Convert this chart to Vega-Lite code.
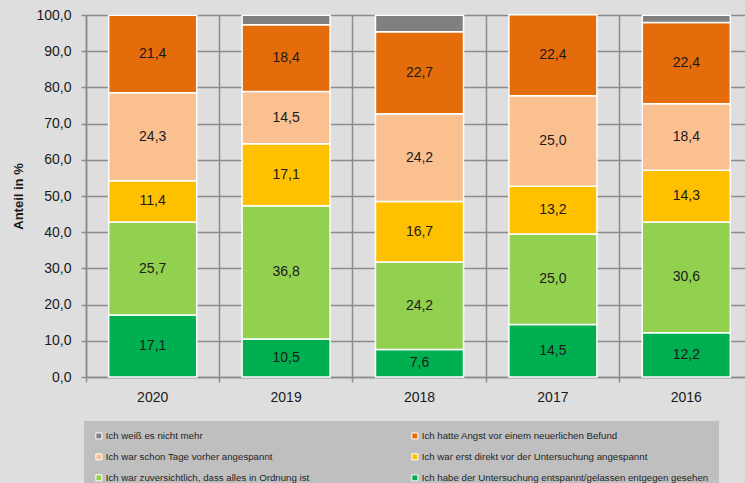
{
  "$schema": "https://vega.github.io/schema/vega-lite/v6.json",
  "width": 667,
  "height": 362,
  "autosize": {"type": "none"},
  "padding": {"left": 86, "top": 15, "right": -8, "bottom": 106},
  "background": "#dedede",
  "config": {
    "view": {"stroke": null},
    "font": "Liberation Sans",
    "locale": {"number": {"decimal": ",", "thousands": ".", "grouping": [3], "currency": ["", " €"]}},
    "axisY": {
      "titleFontSize": 13,
      "titleFontWeight": "bold",
      "titleColor": "#1a1a1a",
      "titlePadding": 10,
      "grid": true,
      "gridColor": "#8c8c8c",
      "gridWidth": 1.5,
      "domainColor": "#8c8c8c",
      "domainWidth": 1.5,
      "tickColor": "#8c8c8c",
      "tickWidth": 1.5,
      "tickSize": 5,
      "labelFontSize": 14,
      "labelColor": "#1a1a1a",
      "labelPadding": 10,
      "labelOverlap": false
    }
  },
  "data": {
    "values": [
      {"jahr": "2020", "kategorie": "Ich habe der Untersuchung entspannt/gelassen entgegen gesehen", "anteil": 17.1},
      {"jahr": "2020", "kategorie": "Ich war zuversichtlich, dass alles in Ordnung ist", "anteil": 25.7},
      {"jahr": "2020", "kategorie": "Ich war erst direkt vor der Untersuchung angespannt", "anteil": 11.4},
      {"jahr": "2020", "kategorie": "Ich war schon Tage vorher angespannt", "anteil": 24.3},
      {"jahr": "2020", "kategorie": "Ich hatte Angst vor einem neuerlichen Befund", "anteil": 21.4},
      {"jahr": "2019", "kategorie": "Ich habe der Untersuchung entspannt/gelassen entgegen gesehen", "anteil": 10.5},
      {"jahr": "2019", "kategorie": "Ich war zuversichtlich, dass alles in Ordnung ist", "anteil": 36.8},
      {"jahr": "2019", "kategorie": "Ich war erst direkt vor der Untersuchung angespannt", "anteil": 17.1},
      {"jahr": "2019", "kategorie": "Ich war schon Tage vorher angespannt", "anteil": 14.5},
      {"jahr": "2019", "kategorie": "Ich hatte Angst vor einem neuerlichen Befund", "anteil": 18.4},
      {"jahr": "2019", "kategorie": "Ich weiß es nicht mehr", "anteil": 2.6},
      {"jahr": "2018", "kategorie": "Ich habe der Untersuchung entspannt/gelassen entgegen gesehen", "anteil": 7.6},
      {"jahr": "2018", "kategorie": "Ich war zuversichtlich, dass alles in Ordnung ist", "anteil": 24.2},
      {"jahr": "2018", "kategorie": "Ich war erst direkt vor der Untersuchung angespannt", "anteil": 16.7},
      {"jahr": "2018", "kategorie": "Ich war schon Tage vorher angespannt", "anteil": 24.2},
      {"jahr": "2018", "kategorie": "Ich hatte Angst vor einem neuerlichen Befund", "anteil": 22.7},
      {"jahr": "2018", "kategorie": "Ich weiß es nicht mehr", "anteil": 4.5},
      {"jahr": "2017", "kategorie": "Ich habe der Untersuchung entspannt/gelassen entgegen gesehen", "anteil": 14.5},
      {"jahr": "2017", "kategorie": "Ich war zuversichtlich, dass alles in Ordnung ist", "anteil": 25.0},
      {"jahr": "2017", "kategorie": "Ich war erst direkt vor der Untersuchung angespannt", "anteil": 13.2},
      {"jahr": "2017", "kategorie": "Ich war schon Tage vorher angespannt", "anteil": 25.0},
      {"jahr": "2017", "kategorie": "Ich hatte Angst vor einem neuerlichen Befund", "anteil": 22.4},
      {"jahr": "2016", "kategorie": "Ich habe der Untersuchung entspannt/gelassen entgegen gesehen", "anteil": 12.2},
      {"jahr": "2016", "kategorie": "Ich war zuversichtlich, dass alles in Ordnung ist", "anteil": 30.6},
      {"jahr": "2016", "kategorie": "Ich war erst direkt vor der Untersuchung angespannt", "anteil": 14.3},
      {"jahr": "2016", "kategorie": "Ich war schon Tage vorher angespannt", "anteil": 18.4},
      {"jahr": "2016", "kategorie": "Ich hatte Angst vor einem neuerlichen Befund", "anteil": 22.4},
      {"jahr": "2016", "kategorie": "Ich weiß es nicht mehr", "anteil": 2.0}
    ]
  },
  "transform": [
    {"calculate": "indexof(['Ich habe der Untersuchung entspannt/gelassen entgegen gesehen', 'Ich war zuversichtlich, dass alles in Ordnung ist', 'Ich war erst direkt vor der Untersuchung angespannt', 'Ich war schon Tage vorher angespannt', 'Ich hatte Angst vor einem neuerlichen Befund', 'Ich weiß es nicht mehr'], datum.kategorie)", "as": "rang"},
    {"stack": "anteil", "groupby": ["jahr"], "sort": [{"field": "rang", "order": "ascending"}], "as": ["y0", "y1"]},
    {"calculate": "(datum.y0 + datum.y1) / 2", "as": "ymitte"}
  ],
  "encoding": {
    "x": {
      "field": "jahr",
      "type": "ordinal",
      "sort": ["2020", "2019", "2018", "2017", "2016"],
      "scale": {"paddingInner": 0, "paddingOuter": 0},
      "axis": {
        "title": null,
        "bandPosition": 0,
        "grid": true,
        "gridColor": "#8c8c8c",
        "gridWidth": 1.5,
        "domainColor": "#8c8c8c",
        "domainWidth": 1.5,
        "tickColor": "#8c8c8c",
        "tickWidth": 1.5,
        "tickSize": 5,
        "labelAngle": 0,
        "labelFontSize": 14,
        "labelColor": "#1a1a1a",
        "labelPadding": 8
      }
    }
  },
  "layer": [
    {
      "mark": {"type": "bar", "width": {"band": 0.66}, "stroke": "white", "strokeWidth": 1.5},
      "encoding": {
        "y": {
          "field": "y0",
          "type": "quantitative",
          "scale": {"domain": [0, 100]},
          "axis": {"title": "Anteil in %", "values": [0, 10, 20, 30, 40, 50, 60, 70, 80, 90, 100], "format": ".1f"}
        },
        "y2": {"field": "y1"},
        "color": {
          "field": "kategorie",
          "type": "nominal",
          "scale": {
            "domain": [
              "Ich weiß es nicht mehr",
              "Ich hatte Angst vor einem neuerlichen Befund",
              "Ich war schon Tage vorher angespannt",
              "Ich war erst direkt vor der Untersuchung angespannt",
              "Ich war zuversichtlich, dass alles in Ordnung ist",
              "Ich habe der Untersuchung entspannt/gelassen entgegen gesehen"
            ],
            "range": ["#808080", "#E46C0A", "#FAC090", "#FFC000", "#92D050", "#00B050"]
          },
          "legend": {
            "title": null,
            "orient": "none",
            "direction": "horizontal",
            "legendX": -2,
            "legendY": 406,
            "columns": 2,
            "fillColor": "#bfbfbf",
            "padding": 10,
            "symbolType": "square",
            "symbolSize": 36,
            "symbolStrokeColor": "white",
            "symbolStrokeWidth": 1,
            "labelFontSize": 9.7,
            "labelColor": "#1f1f1f",
            "labelLimit": 400,
            "labelOffset": 2,
            "columnPadding": 99,
            "rowPadding": 10
          }
        }
      }
    },
    {
      "transform": [{"filter": "datum.kategorie != 'Ich weiß es nicht mehr'"}],
      "mark": {"type": "text", "fontSize": 14, "color": "#1a1a1a"},
      "encoding": {
        "y": {
          "field": "ymitte",
          "type": "quantitative",
          "axis": {"title": "Anteil in %", "values": [0, 10, 20, 30, 40, 50, 60, 70, 80, 90, 100], "format": ".1f"}
        },
        "text": {"field": "anteil", "type": "quantitative", "format": ".1f"}
      }
    }
  ]
}
